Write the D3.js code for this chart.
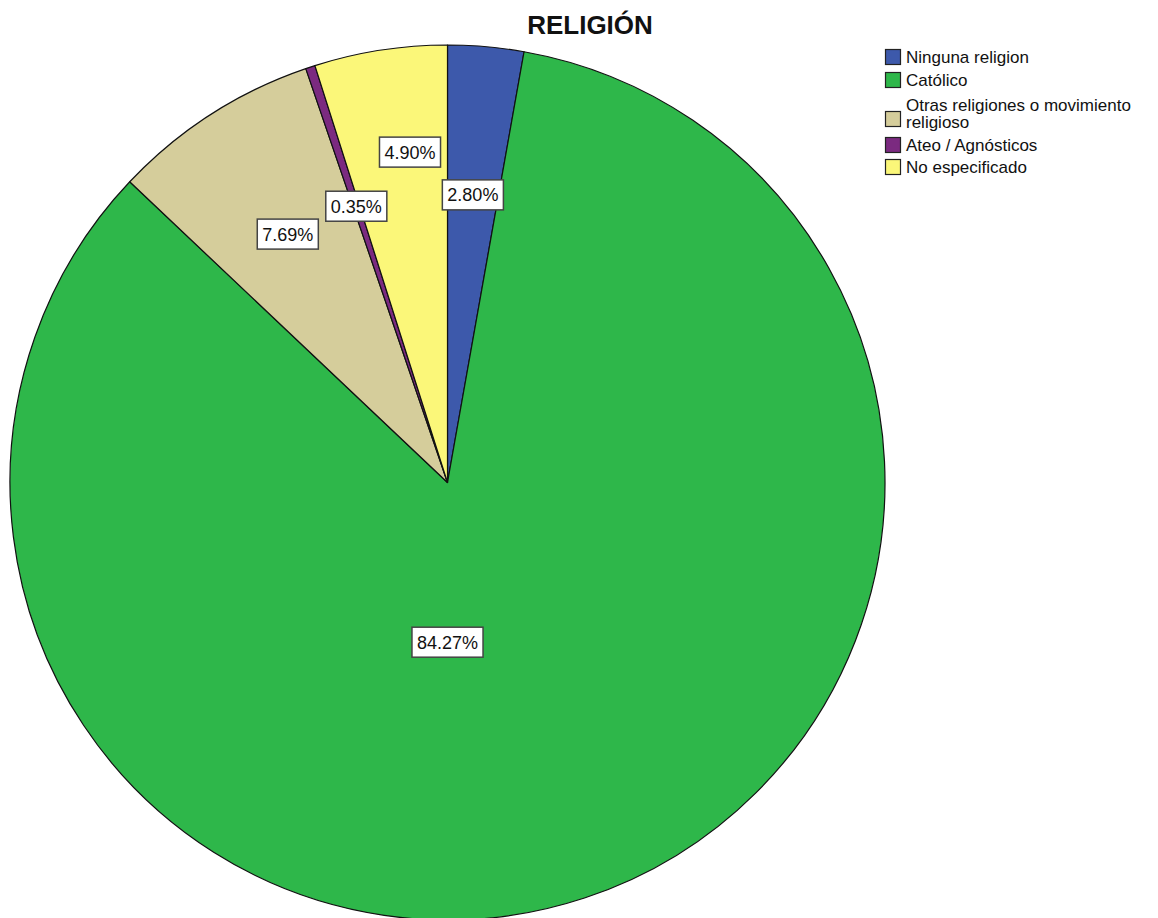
<!DOCTYPE html>
<html>
<head>
<meta charset="utf-8">
<script src="https://cdn.jsdelivr.net/npm/d3@7"></script>
<style>
  body { margin: 0; background: #fff; }
  text { font-family: Arial, "Liberation Sans", sans-serif; }
</style>
</head>
<body>
<svg id="chart" width="1158" height="918"></svg>
<script>
// categories and values (percent)
const categories = ["Ninguna religion", "Católico", "Otras religiones o movimiento religioso", "Ateo / Agnósticos", "No especificado"];
const values = [2.80, 84.27, 7.69, 0.35, 4.90];
const labels = ["2.80%", "84.27%", "7.69%", "0.35%", "4.90%"];
const legendLines = [["Ninguna religion"], ["Católico"], ["Otras religiones o movimiento", "religioso"], ["Ateo / Agnósticos"], ["No especificado"]];
const colors = ["#3d59ab", "#2eb74a", "#d5cd9b", "#7b2a80", "#fbf779"];

let width = 1158;
let height = 918;
let cx = 447.5, cy = 482.5, radius = 437.5;

let svg = d3.select("#chart");

// title
svg.append("text")
    .attr("x", 590)
    .attr("y", 34)
    .attr("text-anchor", "middle")
    .attr("font-size", 26)
    .attr("font-weight", "bold")
    .attr("fill", "#111")
    .text("RELIGIÓN");

let data = categories.map((c, i) => ({name: c, value: values[i], label: labels[i], color: colors[i]}));

let pie = d3.pie().sort(null).value(d => d.value);
let arcs = pie(data);

let arc = d3.arc().innerRadius(0).outerRadius(radius);

let g = svg.append("g").attr("transform", "translate(" + cx + "," + cy + ")");

g.selectAll("path")
    .data(arcs)
    .enter().append("path")
    .attr("d", arc)
    .attr("fill", d => d.data.color)
    .attr("stroke", "#111")
    .attr("stroke-width", 1.2)
    .attr("stroke-linejoin", "round");

// label placement: radius factor and optional angle override (like SPSS nudging)
let placement = {
    "Ninguna religion": {r: 0.66},
    "Católico": {r: 0.365, a: Math.PI},
    "Otras religiones o movimiento religioso": {r: 0.675},
    "Ateo / Agnósticos": {r: 0.665},
    "No especificado": {r: 0.76, a: -0.113}
};

let labelG = g.selectAll("g.lbl")
    .data(arcs)
    .enter().append("g")
    .attr("class", "lbl")
    .attr("transform", function (d) {
        let p = placement[d.data.name];
        let a = p.a !== undefined ? p.a : (d.startAngle + d.endAngle) / 2;
        let r = p.r * radius;
        return "translate(" + (Math.sin(a) * r) + "," + (-Math.cos(a) * r) + ")";
    });

labelG.append("text")
    .attr("text-anchor", "middle")
    .attr("dy", "0.36em")
    .attr("font-size", 18)
    .attr("fill", "#111")
    .text(d => d.data.label);

labelG.each(function () {
    let grp = d3.select(this);
    let bb = grp.select("text").node().getBBox();
    grp.insert("rect", "text")
        .attr("x", bb.x - 5)
        .attr("y", -15)
        .attr("width", bb.width + 10)
        .attr("height", 30)
        .attr("fill", "#fff")
        .attr("stroke", "#444")
        .attr("stroke-width", 1.5);
});

// legend
let legend = svg.append("g").attr("transform", "translate(885,49)");
let rowY = [0, 23, 62, 88, 110];

let items = legend.selectAll("g.item")
    .data(data)
    .enter().append("g")
    .attr("class", "item")
    .attr("transform", (d, i) => "translate(0," + rowY[i] + ")");

items.append("rect")
    .attr("x", 0.5)
    .attr("y", 0.5)
    .attr("width", 15)
    .attr("height", 15)
    .attr("fill", d => d.color)
    .attr("stroke", "#222")
    .attr("stroke-width", 1.2);

items.each(function (d, i) {
    let lines = legendLines[i];
    let t = d3.select(this).append("text")
        .attr("x", 21)
        .attr("font-size", 17)
        .attr("fill", "#111");
    let top = lines.length > 1 ? 0 : 14;
    lines.forEach((ln, j) => {
        t.append("tspan")
            .attr("x", 21)
            .attr("y", top + j * 17)
            .text(ln);
    });
});
</script>
</body>
</html>
